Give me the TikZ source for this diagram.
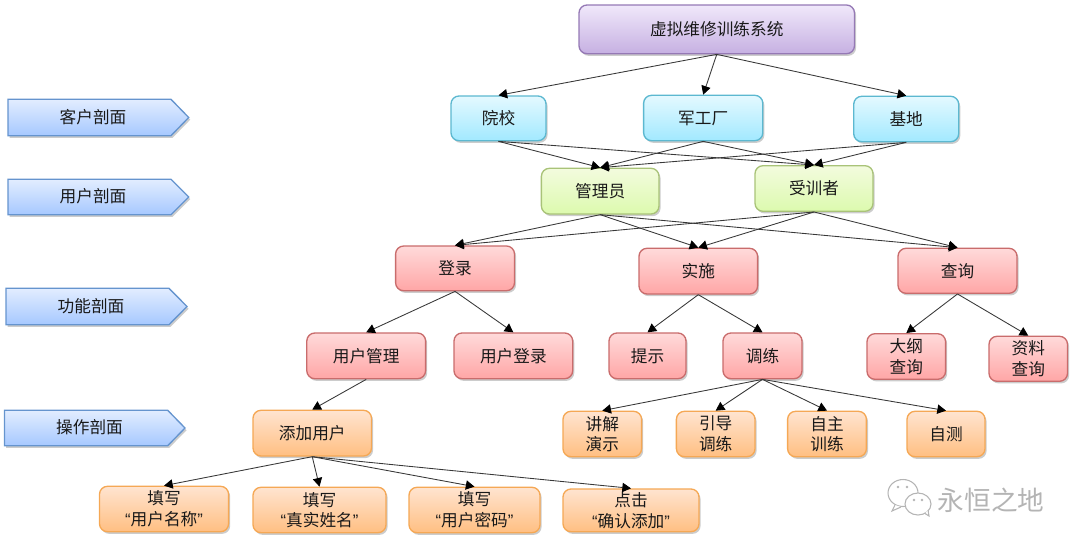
\documentclass[tikz,border=0pt]{standalone}
\usepackage{fontspec}
\setmainfont{Noto Sans CJK SC}
\newfontfamily\latq{Liberation Sans}
\usetikzlibrary{arrows.meta,shadows,calc}
\definecolor{purT}{HTML}{F0E8FA}\definecolor{purB}{HTML}{C6B0E2}\definecolor{purD}{HTML}{9579B5}
\definecolor{cyaT}{HTML}{E4F9FF}\definecolor{cyaB}{HTML}{A2E9FF}\definecolor{cyaD}{HTML}{5CB8D0}
\definecolor{greT}{HTML}{F3FBDE}\definecolor{greB}{HTML}{DCFAAE}\definecolor{greD}{HTML}{A9C378}
\definecolor{redT}{HTML}{FFDADA}\definecolor{redB}{HTML}{FFA6A6}\definecolor{redD}{HTML}{C96C6C}
\definecolor{oraT}{HTML}{FFE4D0}\definecolor{oraB}{HTML}{FFBF82}\definecolor{oraD}{HTML}{F5A855}
\definecolor{bluT}{HTML}{E2EDFF}\definecolor{bluB}{HTML}{A6C8FF}\definecolor{bluD}{HTML}{6594CE}
\definecolor{wm}{HTML}{B4B4B4}
\tikzset{
  softshadow/.style={drop shadow={shadow xshift=1.2pt,shadow yshift=-1.6pt,opacity=.2,fill=black}},
  basebox/.style={draw,line width=1pt,rounded corners=6pt,inner sep=0pt,align=center,
    font=\fontsize{12.5}{15.5}\selectfont,text=black!90,softshadow},
  purbox/.style={basebox,draw=purD,top color=purT,bottom color=purB},
  cyabox/.style={basebox,draw=cyaD,top color=cyaT,bottom color=cyaB},
  grebox/.style={basebox,draw=greD,top color=greT,bottom color=greB},
  redbox/.style={basebox,draw=redD,top color=redT,bottom color=redB},
  orabox/.style={basebox,draw=oraD,top color=oraT,bottom color=oraB},
  pentagon/.style={draw=bluD,line width=1pt,top color=bluT,bottom color=bluB,softshadow},
  pentlabel/.style={inner sep=0pt,font=\fontsize{12.5}{15.5}\selectfont,text=black!90},
  link/.style={draw=black!78,line width=.65pt,-{Triangle[length=6.5pt,width=7pt,color=black]}},
  wmbubble/.style={draw=wm,line width=.8pt,fill=white},
  wmdot/.style={fill=wm,circle,inner sep=0pt,minimum size=2pt},
}
\newcommand{\bx}[7]{\node[#6,minimum width={(#4-#2)*0.75pt},minimum height={(#5-#3)*0.75pt}]
  (#1) at ({(#2+#4)/2},{(#3+#5)/2}) {#7};}
\newcommand{\pent}[7]{% name x0 xbody xtip ytop ybot text
  \path[pentagon] (#2,#5) -- (#3,#5) -- (#4,{(#5+#6)/2}) -- (#3,#6) -- (#2,#6) -- cycle;
  \node[pentlabel] (#1) at ({#2+85},{(#5+#6)/2-0.8}) {#7};}
\newcommand{\oq}{{\latq “}}
\newcommand{\cq}{{\latq ”}}
\begin{document}
\begin{tikzpicture}[x=0.75pt,y=-0.75pt]
\useasboundingbox (0,0) rectangle (1080,547);
\pent{s1}{8}{171}{188.7}{99.3}{135.7}{客户剖面}
\pent{s2}{8}{171}{188.7}{179.3}{214.7}{用户剖面}
\pent{s3}{6}{169}{187}{288.3}{324.7}{功能剖面}
\pent{s4}{4.5}{167.7}{185}{410.3}{445.7}{操作剖面}

\bx{root}{579}{5}{854.5}{53.7}{purbox}{虚拟维修训练系统}
\bx{yx}{451}{96}{546}{140.7}{cyabox}{院校}
\bx{jg}{643.6}{95.3}{762.8}{140.7}{cyabox}{军工厂}
\bx{jd}{853.7}{96.3}{958.7}{141.7}{cyabox}{基地}
\bx{gl}{541.4}{168.3}{659}{214}{grebox}{管理员}
\bx{sx}{755}{165.7}{873}{211.3}{grebox}{受训者}
\bx{dl}{395.6}{246}{514.5}{290.7}{redbox}{登录}
\bx{ss}{639}{248.3}{757.6}{294}{redbox}{实施}
\bx{cx}{898}{248.3}{1017}{293.3}{redbox}{查询}
\bx{yg}{306.8}{333}{425.6}{378.7}{redbox}{用户管理}
\bx{yd}{454}{333}{572.7}{378.7}{redbox}{用户登录}
\bx{ts}{609}{333}{686}{378.7}{redbox}{提示}
\bx{tl}{723}{333}{802}{378.7}{redbox}{调练}
\bx{dg}{867}{333.7}{945.6}{379.3}{redbox}{大纲\\查询}
\bx{zl}{989}{336.3}{1067.5}{381.3}{redbox}{资料\\查询}
\bx{tj}{253}{410.3}{371.5}{456}{orabox}{添加用户}
\bx{jj}{563}{411.3}{641.6}{456.7}{orabox}{讲解\\演示}
\bx{yd2}{676.4}{411.3}{755}{456.7}{orabox}{引导\\调练}
\bx{zz}{787.6}{411.3}{866.4}{456.7}{orabox}{自主\\训练}
\bx{zc}{907}{411.3}{985}{456.7}{orabox}{自测}
\bx{t1}{99.5}{486.3}{228.6}{531.7}{orabox}{填写\\\oq 用户名称\cq}
\bx{t2}{253}{487.3}{386}{532.7}{orabox}{填写\\\oq 真实姓名\cq}
\bx{t3}{409}{487.3}{540}{532.7}{orabox}{填写\\\oq 用户密码\cq}
\bx{t4}{563}{489}{699}{531.7}{orabox}{点击\\\oq 确认添加\cq}

\foreach \a/\b in {root/yx,root/jg,root/jd,
  yx/gl,yx/sx,jg/gl,jg/sx,jd/gl,jd/sx,
  gl/dl,gl/ss,gl/cx,sx/dl,sx/ss,sx/cx,
  dl/yg,dl/yd,ss/ts,ss/tl,cx/dg,cx/zl,
  yg/tj,tl/jj,tl/yd2,tl/zz,tl/zc,
  tj/t1,tj/t2,tj/t3,tj/t4}
  \draw[link] (\a.south) -- (\b.north);

% watermark
\draw[wmbubble] (903,493) ellipse [x radius=15,y radius=13.5];
\draw[wmbubble] (895,505) -- (892,511) -- (901,507);
\draw[wmbubble] (918,504) ellipse [x radius=13,y radius=11];
\draw[wmbubble] (925,513.5) -- (929,516) -- (928,510);
\node[wmdot] (e1) at (898,487) {};
\node[wmdot] (e2) at (907,487) {};
\node[wmdot] (e3) at (914,500) {};
\node[wmdot] (e4) at (922,500) {};
\node[inner sep=0pt,font=\fontsize{20}{24}\selectfont,text=wm] (wmtext) at (991,500) {永恒之地};
\end{tikzpicture}
\end{document}
